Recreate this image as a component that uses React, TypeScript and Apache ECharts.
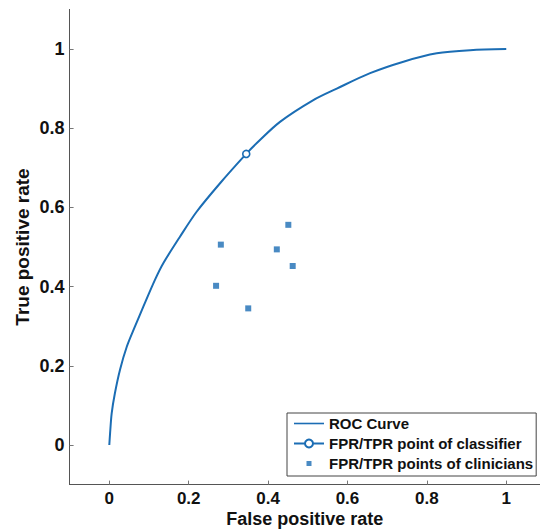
import React, { useEffect, useRef } from "react";
import * as echarts from "echarts";

const rocFpr = [0, 0.002, 0.006, 0.014, 0.027, 0.044, 0.065, 0.086, 0.115, 0.136, 0.178, 0.22, 0.279, 0.342, 0.371, 0.43, 0.514, 0.573, 0.657, 0.741, 0.825, 0.909, 1.0];
const rocTpr = [0, 0.03, 0.08, 0.13, 0.19, 0.248, 0.3, 0.35, 0.417, 0.459, 0.526, 0.589, 0.661, 0.732, 0.762, 0.816, 0.871, 0.9, 0.939, 0.968, 0.989, 0.997, 1.0];

const classifierPoint = [0.345, 0.735];

const clinicianFpr = [0.451, 0.281, 0.422, 0.462, 0.269, 0.35];
const clinicianTpr = [0.556, 0.506, 0.494, 0.452, 0.402, 0.345];

const tickValues = [0, 0.2, 0.4, 0.6, 0.8, 1];

const seriesNames = ["ROC Curve", "FPR/TPR point of classifier", "FPR/TPR points of clinicians"];

const BLUE = "#1b6db4";
const FONT = "Liberation Sans, Arial, Helvetica, sans-serif";

export default function App() {
  const ref = useRef<HTMLDivElement>(null);
  useEffect(() => {
    if (!ref.current) return;
    const chart = echarts.init(ref.current, null, { renderer: "svg" });
    const fmt = (v: number) => String(Math.round(v * 10) / 10);
    const axisCommon = {
      axisLine: { show: true, onZero: false, lineStyle: { color: "#555", width: 1 } },
      axisTick: { show: true, inside: true, length: 4, lineStyle: { color: "#777" }, customValues: tickValues },
      splitLine: { show: false },
      nameLocation: "middle" as const,
      nameMoveOverlap: false,
      nameTextStyle: { fontFamily: FONT, fontWeight: "bold" as const, fontSize: 19, color: "#111" },
    };
    chart.setOption({
      animation: false,
      backgroundColor: "#fff",
      grid: { left: 69.6, right: 0, top: 9.4, bottom: 46.4, containLabel: false, outerBoundsMode: "none" },
      xAxis: {
        type: "value",
        min: -0.1,
        max: 1.085,
        name: "False positive rate",
        nameGap: 25.5,
        ...axisCommon,
        nameTextStyle: { fontFamily: FONT, fontWeight: "bold", fontSize: 18, color: "#111" },
        axisLabel: { customValues: tickValues, formatter: fmt, margin: 5, fontFamily: FONT, fontWeight: "bold", fontSize: 17, color: "#111" },
      },
      yAxis: {
        type: "value",
        min: -0.1,
        max: 1.1,
        name: "True positive rate",
        nameGap: 38,
        ...axisCommon,
        axisLabel: { customValues: tickValues, formatter: fmt, margin: 5, fontFamily: FONT, fontWeight: "bold", fontSize: 18, color: "#111" },
      },
      legend: {
        orient: "vertical",
        left: 287,
        top: 413,
        padding: [3, 3, 5, 6],
        itemWidth: 30,
        itemHeight: 10,
        itemGap: 5,
        borderColor: "#444",
        borderWidth: 1,
        backgroundColor: "#fff",
        textStyle: { fontFamily: FONT, fontWeight: "bold", fontSize: 15, color: "#111" },
        data: [
          { name: seriesNames[0], icon: "path://M0,0M30,10M0,4.2h30v1.6h-30z" },
          { name: seriesNames[1] },
          { name: seriesNames[2], icon: "path://M0,0M30,10M12.5,2.5h5v5h-5z" },
        ],
      },
      series: [
        {
          name: seriesNames[0],
          type: "line",
          symbol: "none",
          smooth: 0.3,
          lineStyle: { color: BLUE, width: 2 },
          itemStyle: { color: BLUE },
          data: rocFpr.map((x, i) => [x, rocTpr[i]]),
          z: 2,
        },
        {
          name: seriesNames[1],
          type: "line",
          symbol: "circle",
          symbolSize: 7,
          lineStyle: { color: BLUE, width: 1.6 },
          itemStyle: { color: "#fff", borderColor: BLUE, borderWidth: 1.6 },
          data: [classifierPoint],
          z: 4,
        },
        {
          name: seriesNames[2],
          type: "scatter",
          symbol: "rect",
          symbolSize: 6,
          itemStyle: { color: BLUE },
          data: clinicianFpr.map((x, i) => [x, clinicianTpr[i]]),
          z: 3,
        },
      ],
    });
    return () => chart.dispose();
  }, []);
  return <div ref={ref} style={{ width: 540, height: 531, position: "absolute", left: 0, top: 0 }} />;
}
